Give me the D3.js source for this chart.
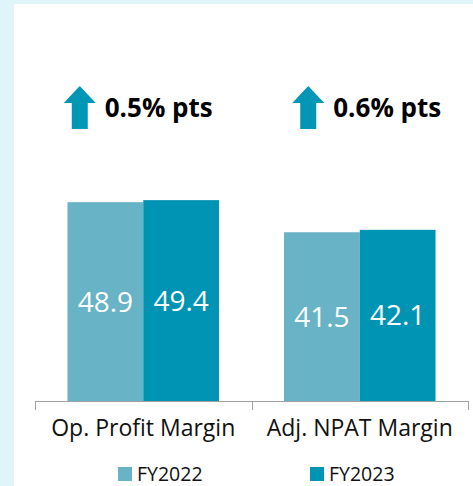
<!DOCTYPE html>
<html>
<head>
<meta charset="utf-8">
<script src="https://cdn.jsdelivr.net/npm/d3@7"></script>
<style>
  html, body { margin: 0; padding: 0; background: #e0f5f9; }
  svg { display: block; font-family: "Open Sans", sans-serif; }
</style>
</head>
<body>
<svg id="chart" width="473" height="486"></svg>
<script>
// --- data ---
const categories = ['Op. Profit Margin', 'Adj. NPAT Margin'];
const seriesNames = ['FY2022', 'FY2023'];
const fy2022 = [48.9, 41.5];
const fy2023 = [49.4, 42.1];
const changeLabels = ['0.5% pts', '0.6% pts'];

const colors = { FY2022: '#69b3c7', FY2023: '#0094b4' };
const arrowColor = '#0097b7';

// --- layout ---
const W = 473, H = 486;
const baseY = 401;
// annotations sit a little off the group centre in the original
const annShift = [-5, 7];

const svg = d3.select('#chart');

// white panel on the light cyan page
svg.append('rect')
  .attr('x', 14).attr('y', 4)
  .attr('width', W - 14).attr('height', H - 4)
  .attr('fill', '#fff');

const x0 = d3.scaleBand()
  .domain(categories)
  .range([35, 468])
  .paddingInner(0.3)
  .paddingOuter(0.15);

const x1 = d3.scaleBand()
  .domain(seriesNames)
  .range([0, x0.bandwidth()]);

const y = d3.scaleLinear()
  .domain([0, 100])
  .range([baseY, baseY - 406.6]);

const rows = categories.map((c, i) => ({
  category: c,
  values: [
    { series: 'FY2022', value: fy2022[i] },
    { series: 'FY2023', value: fy2023[i] }
  ]
}));

// bars
const groups = svg.append('g').selectAll('g')
  .data(rows)
  .join('g')
  .attr('transform', d => `translate(${x0(d.category)},0)`);

groups.selectAll('rect')
  .data(d => d.values)
  .join('rect')
  .attr('x', d => x1(d.series))
  .attr('y', d => y(d.value))
  .attr('width', x1.bandwidth())
  .attr('height', d => baseY - y(d.value))
  .attr('fill', d => colors[d.series]);

// value labels, centred in each bar
groups.selectAll('text.val')
  .data(d => d.values)
  .join('text')
  .attr('class', 'val')
  .attr('x', d => x1(d.series) + x1.bandwidth() / 2)
  .attr('y', d => (y(d.value) + baseY) / 2)
  .attr('dy', '0.36em')
  .attr('text-anchor', 'middle')
  .attr('fill', '#fff')
  .attr('font-size', '28px')
  .text(d => d.value.toFixed(1));

// axis line with ticks at band boundaries
const axisColor = '#a0a0a0';
const [r0, r1] = x0.range();
const tickXs = [r0, (x0(categories[0]) + x0.bandwidth() + x0(categories[1])) / 2, r1];
svg.append('line')
  .attr('x1', r0).attr('x2', r1)
  .attr('y1', baseY + 0.5).attr('y2', baseY + 0.5)
  .attr('stroke', axisColor);
svg.append('g').selectAll('line')
  .data(tickXs)
  .join('line')
  .attr('x1', d => Math.round(d) + 0.5).attr('x2', d => Math.round(d) + 0.5)
  .attr('y1', baseY).attr('y2', baseY + 9)
  .attr('stroke', axisColor);

// category labels
svg.append('g').selectAll('text')
  .data(categories)
  .join('text')
  .attr('x', d => x0(d) + x0.bandwidth() / 2)
  .attr('y', 436)
  .attr('text-anchor', 'middle')
  .attr('font-size', '23px')
  .attr('fill', '#111')
  .text(d => d);

// change annotations: arrow + bold text
const ann = svg.append('g').selectAll('g')
  .data(categories)
  .join('g')
  .attr('transform', (d, i) => `translate(${x0(d) + x0.bandwidth() / 2 + annShift[i]},0)`);

ann.append('text')
  .attr('class', 'chg')
  .attr('y', 117)
  .attr('font-size', '26px')
  .attr('font-weight', 'bold')
  .attr('fill', '#000')
  .text((d, i) => changeLabels[i]);

ann.each(function () {
  const g = d3.select(this);
  const t = g.select('text.chg');
  const tw = t.node().getComputedTextLength();
  const arrowW = 32, gap = 9;
  const left = -(arrowW + gap + tw) / 2;
  t.attr('x', left + arrowW + gap);
  const cx = left + arrowW / 2;
  g.insert('path', 'text')
    .attr('fill', arrowColor)
    .attr('d', `M${cx},86 L${cx + 16},103 L${cx + 8},103 L${cx + 8},129 L${cx - 8},129 L${cx - 8},103 L${cx - 16},103 Z`);
});

// legend
const legend = svg.append('g').selectAll('g')
  .data(seriesNames)
  .join('g')
  .attr('transform', (d, i) => `translate(${i === 0 ? 118 : 310},467)`);

legend.append('rect')
  .attr('width', 14).attr('height', 14)
  .attr('fill', d => colors[d]);

legend.append('text')
  .attr('x', 19).attr('y', 14)
  .attr('font-size', '19.5px')
  .attr('fill', '#111')
  .text(d => d);
</script>
</body>
</html>
